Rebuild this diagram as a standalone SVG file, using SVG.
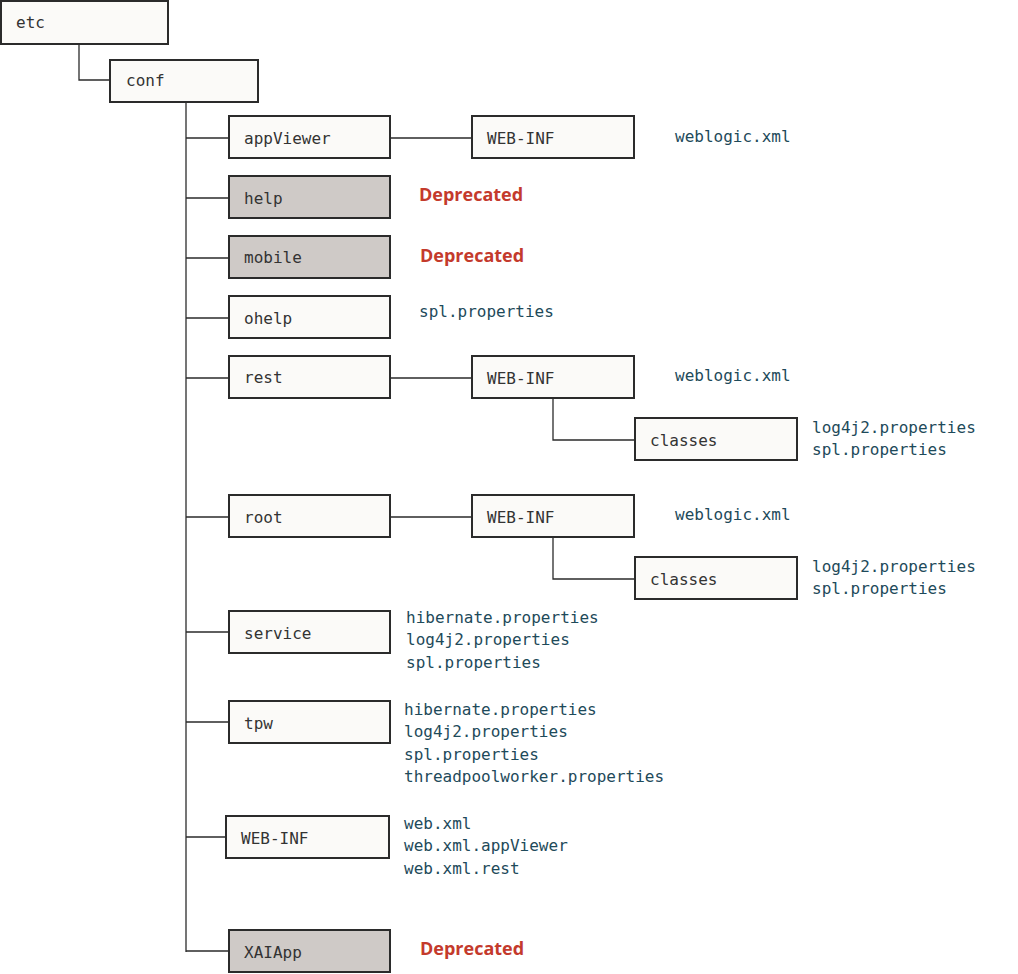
<svg xmlns="http://www.w3.org/2000/svg" width="1018" height="974" viewBox="0 0 1018 974">
<style>
.b{fill:#fbfaf8;stroke:#2b2b2b;stroke-width:2}
.g{fill:#cfcac7;stroke:#2b2b2b;stroke-width:2}
.t{font-family:"DejaVu Sans Mono",monospace;font-size:16px;fill:#333}
.f{font-family:"DejaVu Sans Mono",monospace;font-size:16px;fill:#1e4a5a}
.d{font-family:"Open Sans","Noto Sans",sans-serif;font-size:18px;font-weight:bold;fill:#c43a2c}
.c{fill:none;stroke:#2b2b2b;stroke-width:1.3}
</style>
<rect width="1018" height="974" fill="#fff"/>
<g id="connectors">
<path class="c" d="M79 44V80H110"/>
<path class="c" d="M186 102V952"/>
<path class="c" d="M186 138H229" stroke-width="2"/>
<path class="c" d="M186 198H229M186 258H229M186 318H229M186 378H229M186 517H229M186 632H229M186 722H229M186 837H226M186 951H229"/>
<path class="c" d="M390 138H472M390 378H472M390 517H472"/>
<path class="c" d="M553 398V440H635M553 537V579H635"/>
</g>
<g id="etc"><rect class="b" x="1" y="1" width="167" height="43"/><text class="t" x="16" y="28">etc</text></g>
<g id="conf"><rect class="b" x="110" y="60" width="148" height="42"/><text class="t" x="126" y="86">conf</text></g>
<g id="appViewer"><rect class="b" x="229" y="116" width="161" height="42"/><text class="t" x="244" y="144">appViewer</text></g>
<g id="appViewer-webinf"><rect class="b" x="472" y="116" width="162" height="42"/><text class="t" x="487" y="144">WEB-INF</text><text class="f" x="675" y="142">weblogic.xml</text></g>
<g id="help"><rect class="g" x="229" y="176" width="161" height="42"/><text class="t" x="244" y="204">help</text><text class="d" x="419" y="201">Deprecated</text></g>
<g id="mobile"><rect class="g" x="229" y="236" width="161" height="42"/><text class="t" x="244" y="263">mobile</text><text class="d" x="420" y="262">Deprecated</text></g>
<g id="ohelp"><rect class="b" x="229" y="296" width="161" height="42"/><text class="t" x="244" y="324">ohelp</text><text class="f" x="419" y="317">spl.properties</text></g>
<g id="rest"><rect class="b" x="229" y="356" width="161" height="42"/><text class="t" x="244" y="383">rest</text></g>
<g id="rest-webinf"><rect class="b" x="472" y="356" width="162" height="42"/><text class="t" x="487" y="384">WEB-INF</text><text class="f" x="675" y="381">weblogic.xml</text></g>
<g id="rest-classes"><rect class="b" x="635" y="418" width="162" height="42"/><text class="t" x="650" y="446">classes</text><text class="f" x="812" y="433">log4j2.properties</text><text class="f" x="812" y="455">spl.properties</text></g>
<g id="root"><rect class="b" x="229" y="495" width="161" height="42"/><text class="t" x="244" y="523">root</text></g>
<g id="root-webinf"><rect class="b" x="472" y="495" width="162" height="42"/><text class="t" x="487" y="523">WEB-INF</text><text class="f" x="675" y="520">weblogic.xml</text></g>
<g id="root-classes"><rect class="b" x="635" y="557" width="162" height="42"/><text class="t" x="650" y="585">classes</text><text class="f" x="812" y="572">log4j2.properties</text><text class="f" x="812" y="594">spl.properties</text></g>
<g id="service"><rect class="b" x="229" y="611" width="161" height="42"/><text class="t" x="244" y="639">service</text><text class="f" x="406" y="623">hibernate.properties</text><text class="f" x="406" y="645">log4j2.properties</text><text class="f" x="406" y="668">spl.properties</text></g>
<g id="tpw"><rect class="b" x="229" y="701" width="161" height="42"/><text class="t" x="244" y="729">tpw</text><text class="f" x="404" y="715">hibernate.properties</text><text class="f" x="404" y="737">log4j2.properties</text><text class="f" x="404" y="760">spl.properties</text><text class="f" x="404" y="782">threadpoolworker.properties</text></g>
<g id="webinf"><rect class="b" x="226" y="816" width="163" height="42"/><text class="t" x="241" y="844">WEB-INF</text><text class="f" x="404" y="829">web.xml</text><text class="f" x="404" y="851">web.xml.appViewer</text><text class="f" x="404" y="874">web.xml.rest</text></g>
<g id="XAIApp"><rect class="g" x="229" y="930" width="161" height="42"/><text class="t" x="244" y="958">XAIApp</text><text class="d" x="420" y="955">Deprecated</text></g>
</svg>
